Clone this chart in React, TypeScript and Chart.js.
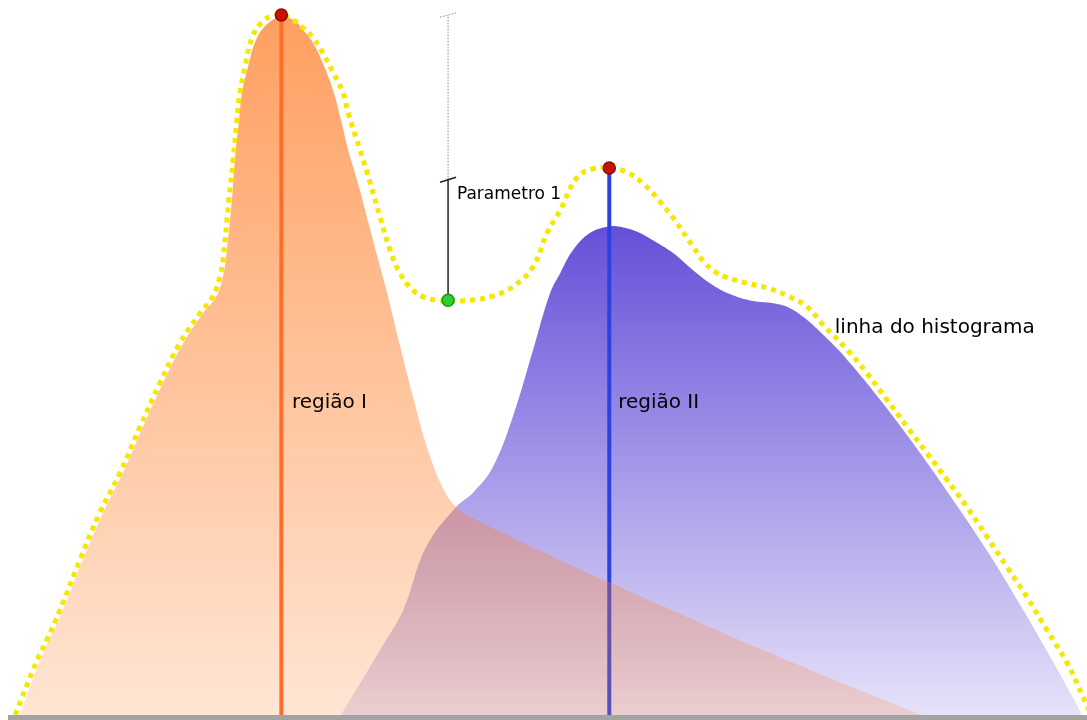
import { useEffect, useRef } from "react";
import { Chart, registerables } from "chart.js";

Chart.register(...registerables);

// Histogram envelope: grey level (x) against pixel count (y)
const histogramX = [
  1.7, 6.9, 9.2, 12.3, 17.0, 21.7, 26.5, 31.2, 35.9, 40.6, 45.4, 48.4, 50.1, 50.8,
  52.2, 53.2, 54.1, 54.8, 56.0, 57.7, 60.0, 62.4, 64.8, 67.4, 69.7, 72.1, 74.4, 76.8,
  79.2, 80.4, 83.2, 85.6, 87.9, 90.3, 92.6, 95.7, 98.5, 101.4, 104.0, 109.2, 114.6,
  119.3, 124.1, 127.4, 130.5, 134.5, 138.3, 142.0, 146.3, 150.5, 154.1, 157.6, 161.9,
  164.7, 167.1, 169.4, 174.6, 179.6, 184.3, 188.8, 192.6, 198.3, 203.0, 207.7, 212.5,
  217.2, 221.9, 226.6, 231.4, 236.1, 240.8, 245.5, 250.3, 254.1, 256.0,
];
const histogramY = [
  0, 77, 105, 147, 217, 283, 339, 403, 464, 520, 562, 585, 613, 636,
  720, 776, 832, 870, 906, 948, 969, 978, 979, 972, 961, 947, 926, 899,
  870, 842, 790, 744, 697, 650, 618, 594, 584, 580, 579, 580, 586,
  599, 627, 674, 706, 752, 764, 765, 759, 741, 718, 692, 655,
  632, 620, 613, 604, 597, 586, 571, 546, 511, 478, 441, 403,
  366, 329, 291, 249, 207, 165, 119, 73, 25, 0,
];

// Region I (dark class) distribution
const regionIX = [
  2.8, 7.6, 13.0, 17.7, 22.5, 27.2, 31.9, 36.6, 41.4, 46.1, 49.2, 50.8, 51.5, 52.9,
  53.6, 54.6, 55.3, 56.7, 58.6, 61.2, 64.3, 67.8, 69.7, 72.1, 74.4, 76.8, 78.7, 80.4,
  82.5, 84.8, 87.2, 89.6, 92.6, 95.7, 99.0, 102.8, 105.9, 110.4, 115.1, 124.1, 142.3,
  178.4, 215.8,
];
const regionIY = [
  0, 77, 147, 217, 283, 339, 403, 464, 520, 562, 585, 613, 639, 720,
  776, 832, 870, 906, 944, 966, 976, 971, 958, 940, 912, 874, 832, 790,
  748, 697, 643, 590, 517, 445, 375, 317, 291, 274, 260, 234, 185,
  91, 0,
];

// Region II (bright class) distribution
const regionIIX = [
  78.7, 87.9, 93.4, 98.8, 105.9, 109.9, 114.6, 119.3, 124.1, 128.1, 130.5, 133.5,
  137.5, 141.6, 144.6, 148.7, 152.4, 157.2, 161.9, 166.6, 171.3, 176.1, 180.8, 184.1,
  187.9, 192.6, 198.3, 206.1, 213.9, 221.9, 229.7, 237.5, 245.5, 251.7, 253.8,
];
const regionIIY = [
  0, 91, 147, 235, 291, 311, 347, 417, 511, 590, 618, 650,
  674, 683, 683, 676, 664, 646, 622, 601, 587, 579, 576, 571,
  557, 532, 497, 441, 380, 313, 245, 171, 90, 24, 0,
];

// Histogram peaks (one per region) and the valley between them
const peakX = [64.6, 142.1];
const peakY = [979, 765];
const valleyX = [104.0];
const valleyY = [580];

// "Parametro 1" measuring bar above the valley
const paramSolidY = [580, 750];
const paramDottedY = [752, 979];
const paramTickX = [102.1, 105.9];
const paramTickLowY = [745, 752];
const paramTickHighY = [976, 982];

// Text annotations, anchored in data units (left edge, baseline)
const labelText = ["região I", "região II", "linha do histograma", "Parametro 1"];
const labelX = [67.1, 144.2, 195.4, 106.1];
const labelY = [429, 429, 534, 722];

const labelFonts = ['20px "DejaVu Sans"', '20px "DejaVu Sans"', '20px "DejaVu Sans"', '17px "DejaVu Sans"'];

const pts = (xs: number[], ys: number[]) => xs.map((x, i) => ({ x, y: ys[i] }));

function verticalGradient(rgb: string, topValue: number, topAlpha: number, bottomAlpha: number) {
  return (context: any) => {
    const chart = context.chart;
    const { ctx, chartArea, scales } = chart;
    if (!chartArea) return `rgba(${rgb},${bottomAlpha})`;
    const yTop = scales.y.getPixelForValue(topValue);
    const yBottom = scales.y.getPixelForValue(0);
    const g = ctx.createLinearGradient(0, yTop, 0, yBottom);
    g.addColorStop(0, `rgba(${rgb},${topAlpha})`);
    g.addColorStop(1, `rgba(${rgb},${bottomAlpha})`);
    return g;
  };
}

const overlayPlugin = {
  id: "overlay",
  afterDatasetsDraw(chart: any) {
    const { ctx, chartArea, scales } = chart;
    const { x, y } = scales;
    ctx.save();
    // base axis bar
    const y0 = y.getPixelForValue(0);
    ctx.fillStyle = "#a3a3a3";
    ctx.fillRect(chartArea.left, y0, chartArea.right - chartArea.left, 6);
    // annotations
    ctx.fillStyle = "#000000";
    ctx.textBaseline = "alphabetic";
    ctx.textAlign = "left";
    labelText.forEach((t, i) => {
      ctx.font = labelFonts[i];
      ctx.fillText(t, x.getPixelForValue(labelX[i]), y.getPixelForValue(labelY[i]));
    });
    ctx.restore();
  },
};

const straight = {
  pointRadius: 0,
  fill: false,
  tension: 0,
  clip: false as const,
};

export default function App() {
  const canvasRef = useRef<HTMLCanvasElement | null>(null);

  useEffect(() => {
    if (!canvasRef.current) return;
    const chart = new Chart(canvasRef.current, {
      type: "line",
      data: {
        datasets: [
          {
            label: "picos",
            data: pts(peakX, peakY),
            showLine: false,
            pointRadius: 6,
            pointBackgroundColor: "#c81400",
            pointBorderColor: "#8c0c00",
            pointBorderWidth: 1.5,
            clip: false,
            order: 0,
          },
          {
            label: "vale",
            data: pts(valleyX, valleyY),
            showLine: false,
            pointRadius: 6,
            pointBackgroundColor: "#30d030",
            pointBorderColor: "#15961a",
            pointBorderWidth: 1.5,
            clip: false,
            order: 0,
          },
          {
            label: "linha do histograma",
            data: pts(histogramX, histogramY),
            borderColor: "#f6e600",
            borderWidth: 5,
            borderDash: [5, 5],
            borderCapStyle: "butt",
            pointRadius: 0,
            fill: false,
            tension: 0.4,
            clip: false,
            order: 1,
          },
          {
            label: "parametro",
            data: pts([valleyX[0], valleyX[0]], paramSolidY),
            borderColor: "#222222",
            borderWidth: 1.5,
            ...straight,
            order: 2,
          },
          {
            label: "parametro marca",
            data: pts(paramTickX, paramTickLowY),
            borderColor: "#222222",
            borderWidth: 1.5,
            ...straight,
            order: 2,
          },
          {
            label: "parametro guia",
            data: pts([valleyX[0], valleyX[0]], paramDottedY),
            borderColor: "#8a8a8a",
            borderWidth: 1,
            borderDash: [1.5, 1.5],
            ...straight,
            order: 2,
          },
          {
            label: "parametro guia marca",
            data: pts(paramTickX, paramTickHighY),
            borderColor: "#8a8a8a",
            borderWidth: 1,
            borderDash: [1.5, 1.5],
            ...straight,
            order: 2,
          },
          {
            label: "média I",
            data: pts([peakX[0], peakX[0]], [0, peakY[0]]),
            borderColor: "#ff6e28",
            borderWidth: 4,
            ...straight,
            order: 3,
          },
          {
            label: "região I",
            data: pts(regionIX, regionIY),
            borderColor: "rgba(0,0,0,0)",
            borderWidth: 0,
            pointRadius: 0,
            fill: "origin",
            backgroundColor: verticalGradient("255,127,42", 979, 0.75, 0.2),
            tension: 0.4,
            order: 4,
          },
          {
            label: "média II",
            data: pts([peakX[1], peakX[1]], [0, peakY[1]]),
            borderColor: "#2b42de",
            borderWidth: 4,
            ...straight,
            order: 5,
          },
          {
            label: "região II",
            data: pts(regionIIX, regionIIY),
            borderColor: "rgba(0,0,0,0)",
            borderWidth: 0,
            pointRadius: 0,
            fill: "origin",
            backgroundColor: verticalGradient("85,60,212", 683, 0.9, 0.15),
            tension: 0.4,
            order: 6,
          },
        ] as any,
      },
      options: {
        responsive: false,
        devicePixelRatio: 1,
        animation: false,
        events: [],
        layout: { autoPadding: false, padding: { left: 8, right: 0, top: 0, bottom: 5 } },
        plugins: {
          legend: { display: false },
          tooltip: { enabled: false },
        },
        scales: {
          x: { type: "linear", min: 0, max: 255, display: false },
          y: { type: "linear", min: 0, max: 1000, display: false },
        },
      },
      plugins: [overlayPlugin],
    });
    return () => chart.destroy();
  }, []);

  return (
    <div style={{ position: "fixed", left: 0, top: 0, width: 1087, height: 720, background: "#ffffff" }}>
      <canvas ref={canvasRef} width={1087} height={720} style={{ display: "block" }} />
    </div>
  );
}
